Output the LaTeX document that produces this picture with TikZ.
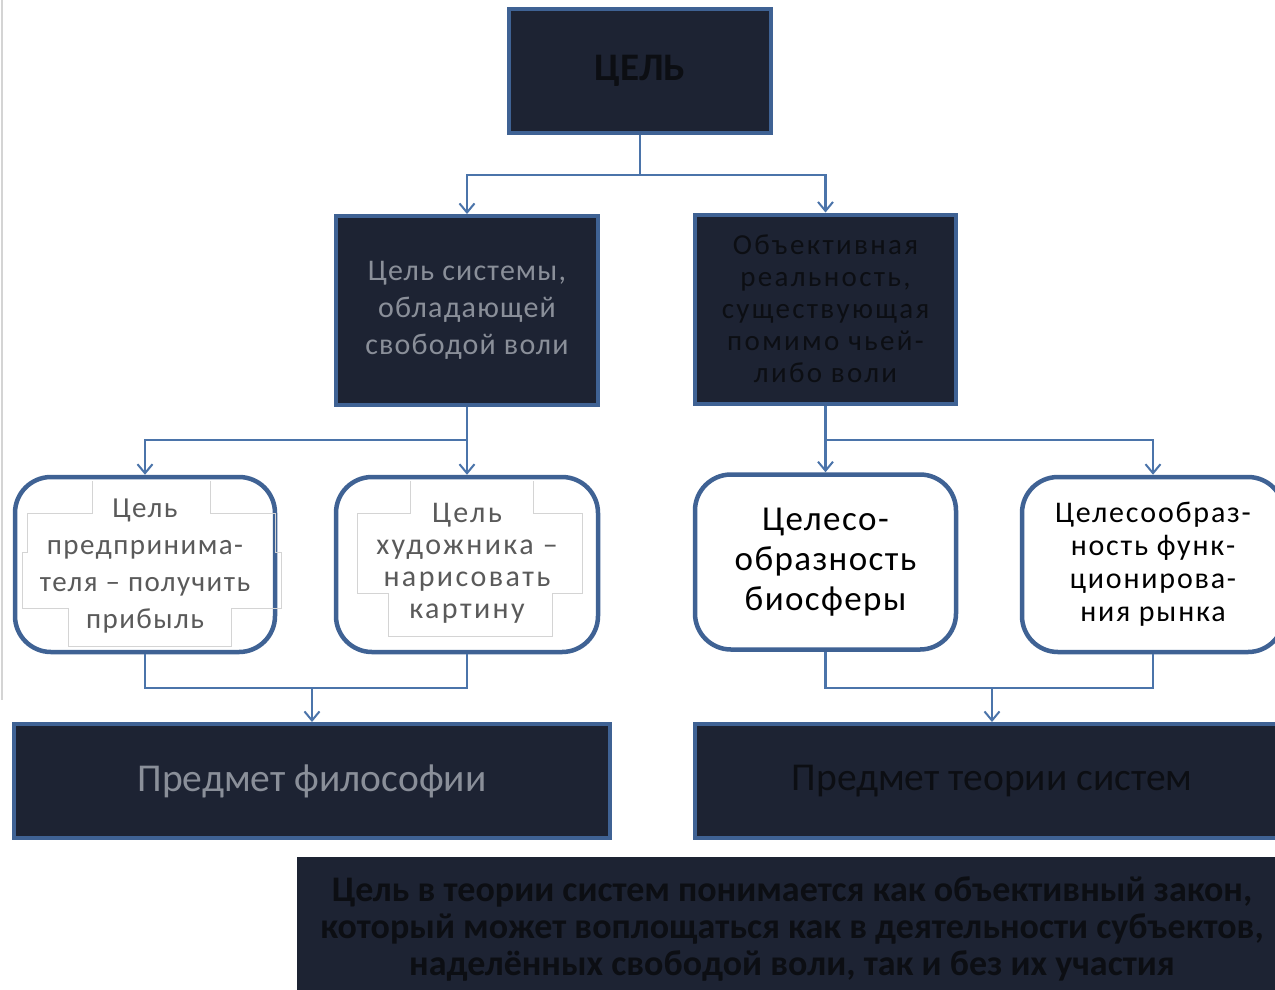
\documentclass[tikz,border=0pt]{standalone}
\usepackage{fontspec}
\setmainfont{Carlito}
\usetikzlibrary{arrows.meta}
\definecolor{darkfill}{HTML}{1D2333}
\definecolor{bord}{HTML}{3F6294}
\definecolor{conn}{HTML}{4B74AA}
\definecolor{graytext}{HTML}{8A8F99}
\definecolor{blacktext}{HTML}{0C0E13}
\definecolor{dotgray}{HTML}{5A5A5A}
\definecolor{stair}{HTML}{D4D4D4}
\begin{document}
\begin{tikzpicture}[x=1pt,y=-1pt,
  darkbox/.style={draw=bord,line width=4pt,fill=darkfill,inner sep=0pt,align=center},
  roundbox/.style={draw=bord,line width=4.5pt,fill=white,rounded corners=36pt,inner sep=0pt,align=center},
  conline/.style={draw=conn,line width=2.2pt},
  conarrow/.style={conline,-{Straight Barb[length=9pt,width=15pt,line width=2pt]}},
  stairline/.style={draw=stair,line width=0.8pt},
  plaintext/.style={align=center,inner sep=0pt}
]
\useasboundingbox (0,0) rectangle (1275,989);
\clip (0,0) rectangle (1275,989);
\fill[white] (0,0) rectangle (1275,989);
\draw[stair,line width=2pt] (1.5,0) -- (1.5,700);

% boxes
\node[darkbox,minimum width=262pt,minimum height=124pt,text=blacktext,
  font={\fontsize{39}{42}\selectfont\bfseries}] (goal) at (640,71) {ЦЕЛЬ};
\node[darkbox,minimum width=262pt,minimum height=189pt,text=graytext,
  font={\fontsize{30}{37}\selectfont\addfontfeature{LetterSpace=4}}] (sys) at (467,310.5)
  {Цель системы,\\обладающей\\свободой воли};
\node[darkbox,minimum width=261pt,minimum height=189pt,text=blacktext,
  font={\fontsize{29}{32}\selectfont\addfontfeature{LetterSpace=8}}] (obj) at (825.5,309)
  {Объективная\\реальность,\\существующая\\помимо чьей-\\либо воли};

\node[roundbox,minimum width=260pt,minimum height=175pt] (A) at (145,564.5) {};
\node[roundbox,minimum width=262pt,minimum height=175pt] (B) at (467,564.5) {};
\node[roundbox,minimum width=261pt,minimum height=175pt,text=black,
  font={\fontsize{35}{40}\selectfont\addfontfeature{LetterSpace=4}}] (C) at (825.5,562)
  {Целесо-\\образность\\биосферы};
\node[roundbox,minimum width=262pt,minimum height=175pt,text=black,
  font={\fontsize{30}{33}\selectfont\addfontfeature{LetterSpace=6}}] (D) at (1153,564.5)
  {Целесообраз-\\ность функ-\\ционирова-\\ния рынка};

% stair-shaped text backgrounds inside A and B
\draw[stairline] (92,481) -- (92,513) -- (27,513) -- (27,552) -- (22,552) -- (22,608) -- (68,608) -- (68,646)
  -- (231,646) -- (231,608) -- (281,608) -- (281,552) -- (275,552) -- (275,513) -- (210,513) -- (210,481);
\draw[stairline] (410,481) -- (410,513) -- (357,513) -- (357,593) -- (388,593) -- (388,636)
  -- (552,636) -- (552,593) -- (582,593) -- (582,513) -- (533,513) -- (533,481);
\node[plaintext,text=dotgray,font={\fontsize{29}{37}\selectfont\addfontfeature{LetterSpace=5}}]
  (Atext) at (145,566) {Цель\\предпринима-\\теля – получить\\прибыль};
\node[plaintext,text=dotgray,font={\fontsize{30}{32}\selectfont\addfontfeature{LetterSpace=8}}]
  (Btext) at (467,563) {Цель\\художника –\\нарисовать\\картину};

\node[darkbox,minimum width=596pt,minimum height=114pt,text=graytext,
  font={\fontsize{39.5}{42}\selectfont}] (phil) at (312,781) {Предмет философии};
\node[darkbox,minimum width=594pt,minimum height=114pt,text=blacktext,
  font={\fontsize{39.5}{42}\selectfont}] (tsys) at (992,781) {Предмет теории систем};
\node[fill=darkfill,inner sep=0pt,minimum width=990pt,minimum height=145pt,align=center,text=blacktext,
  font={\fontsize{36}{37}\selectfont\bfseries}] (note) at (792,929)
  {Цель в теории систем понимается как объективный закон,\\
   который может воплощаться как в деятельности субъектов,\\
   наделённых свободой воли, так и без их участия};

% connectors
\coordinate (j1) at (640,175);
\draw[conline] (goal.south) -- (j1);
\draw[conarrow] (j1) -| (sys.north);
\draw[conarrow] (j1) -| (obj.north);

\coordinate (j2) at (467,440);
\draw[conarrow] (sys.south) -- (B.north);
\draw[conarrow] (j2) -| (A.north);

\coordinate (j3) at (825.5,440);
\draw[conarrow] (obj.south) -- (C.north);
\draw[conarrow] (j3) -| (D.north);

\coordinate (j4) at (312,688);
\draw[conline] (A.south) |- (j4) -| (B.south);
\draw[conarrow] (j4) -- (phil.north);

\coordinate (j5) at (992,688);
\draw[conline] (C.south) |- (j5) -| (D.south);
\draw[conarrow] (j5) -- (tsys.north);
\end{tikzpicture}
\end{document}
